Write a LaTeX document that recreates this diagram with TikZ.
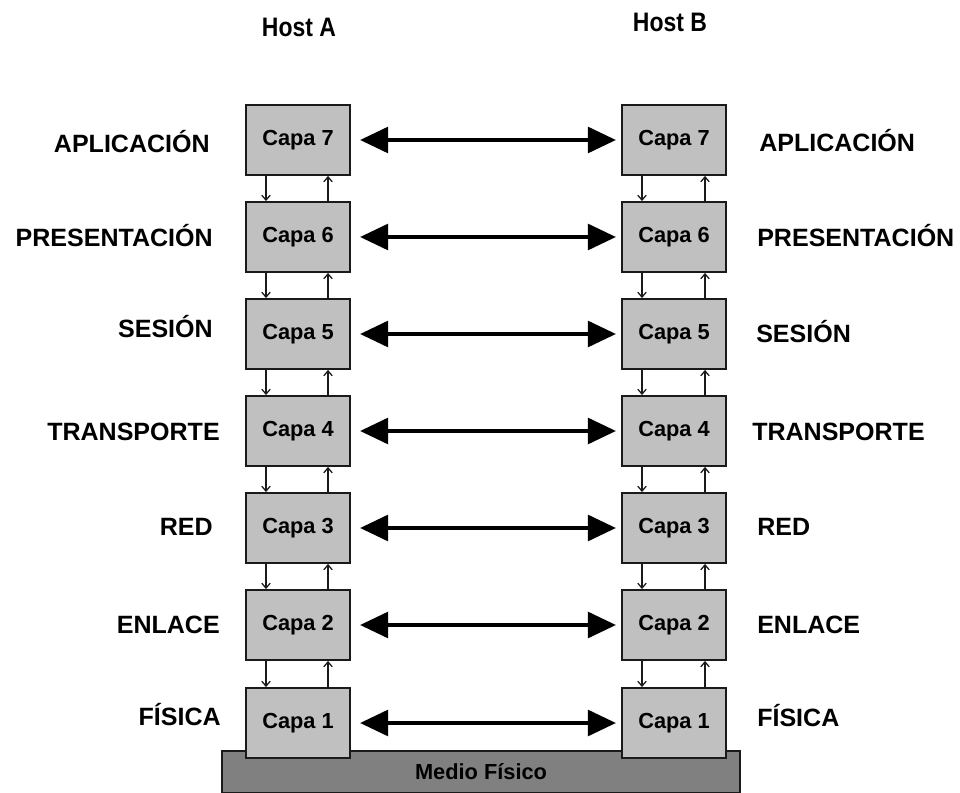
\documentclass[tikz,border=0pt]{standalone}
\usepackage{fontspec}
\setmainfont{Liberation Sans}
\newfontfamily\hostfont[FakeStretch=0.86]{Liberation Sans}
\usepackage{tikz}
\usetikzlibrary{arrows.meta,positioning,calc}
\usepackage{xcolor}
\definecolor{Layer}{HTML}{C0C0C0}
\definecolor{Medium}{HTML}{808080}
\definecolor{Ink}{HTML}{1A1A1A}

\begin{document}
\begin{tikzpicture}[x=0.025cm,y=-0.025cm,
  layer/.style={draw=Ink,line width=1.3pt,fill=Layer,minimum width=2.6cm,minimum height=1.75cm,font=\fontsize{15.5}{17}\selectfont\bfseries,inner sep=0pt},
  medium/.style={draw=Ink,line width=1.2pt,fill=Medium,minimum width=12.95cm,minimum height=1.05cm,font=\fontsize{15.5}{17}\selectfont\bfseries,inner sep=0pt},
  osi/.style={font=\fontsize{17.8}{20}\selectfont\bfseries,inner sep=0pt},
  host/.style={font=\hostfont\fontsize{19}{21}\selectfont\bfseries,inner sep=0pt},
  peer/.style={line width=3.4pt,{Triangle[length=20pt,width=18pt]}-{Triangle[length=20pt,width=18pt]}},
  link/.style={Ink,line width=0.9pt,-{Straight Barb[length=3.5pt,width=6pt]}}]
\useasboundingbox (0,0) rectangle (960,793);
\node[host] (hostA) at (299,27) {Host A};
\node[host] (hostB) at (670,22) {Host B};
\node[medium] (medio) at (481,772) {Medio Físico};
% layers of both hosts
\foreach \n/\y in {7/140,6/237,5/334,4/431,3/528,2/625,1/723} {
  \node[layer] (A\n) at (298,\y) {Capa \n};
  \node[layer] (B\n) at (674,\y) {Capa \n};
  \draw[peer] ([xshift=0.225cm]A\n.east) -- ([xshift=-0.125cm]B\n.west);
}
\foreach \n/\m in {7/6,6/5,5/4,4/3,3/2,2/1} {
  \draw[link] ([xshift=-0.8cm]A\n.south) -- ([xshift=-0.8cm]A\m.north);
  \draw[link] ([xshift=0.75cm]A\m.north) -- ([xshift=0.75cm]A\n.south);
  \draw[link] ([xshift=-0.8cm]B\n.south) -- ([xshift=-0.8cm]B\m.north);
  \draw[link] ([xshift=0.775cm]B\m.north) -- ([xshift=0.775cm]B\n.south);
}
% layer names
\foreach \n/\s/\xa/\xb/\ya/\yb in {7/APLICACIÓN/210/759/153/152,6/PRESENTACIÓN/213/757/247/247,5/SESIÓN/213/756/338/343,4/TRANSPORTE/220/752/441/441,3/RED/213/757/535/535,2/ENLACE/220/757/633/633,1/FÍSICA/221/757/725/726} {
  \node[osi,anchor=base east] (nA\n) at (\xa,\ya) {\s};
  \node[osi,anchor=base west] (nB\n) at (\xb,\yb) {\s};
}
\end{tikzpicture}
\end{document}
